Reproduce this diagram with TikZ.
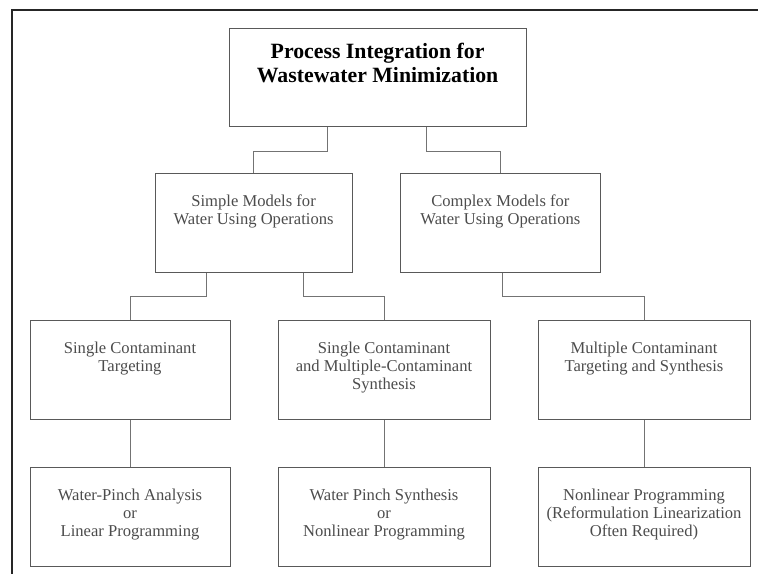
\documentclass[tikz,border=0pt]{standalone}
\usepackage{fontspec}
\setmainfont{Liberation Serif}
\usepackage{tikz}
\tikzset{
	boite/.style={draw=black!65, line width=0.7pt, minimum height=2.47cm, anchor=north, inner sep=0},
	etiq/.style={anchor=north, align=center, inner sep=0, text=black!70, font=\fontsize{11.8}{12.8}\selectfont},
	trait/.style={draw=black!55, line width=0.5pt},
	cadre/.style={draw=black!85, line width=0.9pt}
}
\newcommand{\boite}[5]{\node[boite, minimum width=#4cm] (#1) at (#2,#3) {};
	\node[etiq] (#1-t) at ([yshift=-0.55cm]#1.north) {#5}}
\newcommand{\coude}[3]{\draw[trait] ([xshift=#2cm]#1.south) --++ (0,-0.6) -| (#3.north)}
\newcommand{\droit}[2]{\draw[trait] (#1.south) -- (#2.north)}

\begin{document}
\begin{tikzpicture}
	\useasboundingbox (0,0) rectangle (18.95,-14.35);
	\draw[cadre] (0.3,-14.35) |- (18.95,-0.25);
	\node[boite, minimum width=7.43cm, minimum height=2.45cm] (titre) at (9.44,-0.7) {};
	\node[etiq, text=black, font=\bfseries\fontsize{15.5}{16.5}\selectfont] (titre-t) at ([yshift=-0.38cm]titre.north) {Process Integration for\\Wastewater Minimization};
	\boite{simple}{6.34}{-4.325}{4.93}{Simple Models for\\Water Using Operations};
	\boite{complexe}{12.51}{-4.325}{4.98}{Complex Models for\\Water Using Operations};
	\boite{cible}{3.25}{-8.0}{5.0}{Single Contaminant\\Targeting};
	\boite{synth}{9.6}{-8.0}{5.3}{Single Contaminant\\and Multiple-Contaminant\\Synthesis};
	\boite{multi}{16.1}{-8.0}{5.3}{Multiple Contaminant\\Targeting and Synthesis};
	\boite{pinch}{3.25}{-11.675}{5.0}{Water-Pinch Analysis\\or\\Linear Programming};
	\boite{pinchs}{9.6}{-11.675}{5.3}{Water Pinch Synthesis\\or\\Nonlinear Programming};
	\boite{nlp}{16.1}{-11.675}{5.3}{Nonlinear Programming\\(Reformulation Linearization\\Often Required)};
	\coude{titre}{-1.265}{simple};
	\coude{titre}{1.21}{complexe};
	\coude{simple}{-1.19}{cible};
	\coude{simple}{1.235}{synth};
	\coude{complexe}{0.04}{multi};
	\droit{cible}{pinch};
	\droit{synth}{pinchs};
	\droit{multi}{nlp};
\end{tikzpicture}
\end{document}
